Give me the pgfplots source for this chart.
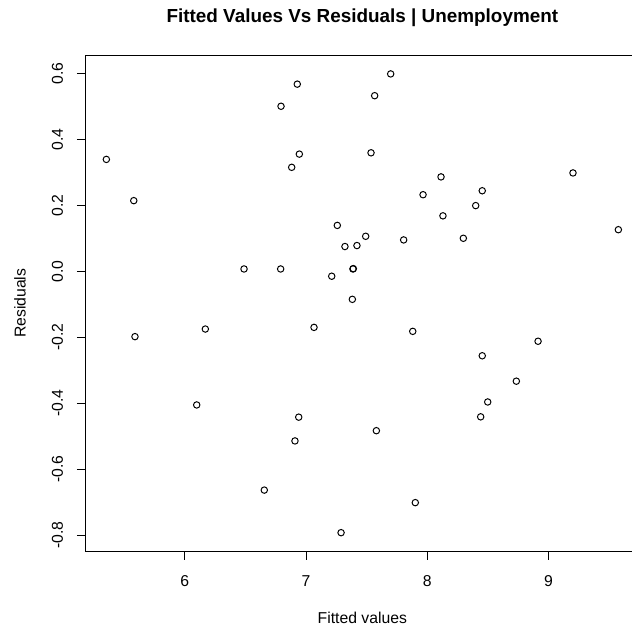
\documentclass[border=0pt]{standalone}
\usepackage{pgfplots}
\pgfplotsset{compat=1.18}
\usepackage{fontspec}
\setmainfont{Liberation Sans}
\begin{document}
\begin{tikzpicture}
\begin{axis}[
  at={(65.2bp,61.5bp)}, anchor=south west,
  scale only axis, width=420bp, height=376.3bp,
  xmin=5.185, xmax=9.744, ymin=-0.8476, ymax=0.6536,
  axis line style={line width=0.75bp, black},
  xtick={6,7,8,9}, xticklabels={6,7,8,9},
  ytick={-0.8,-0.6,-0.4,-0.2,0,0.2,0.4,0.6},
  yticklabels={-0.8,-0.6,-0.4,-0.2,0.0,0.2,0.4,0.6},
  xtick pos=bottom, ytick pos=left,
  tick align=outside, major tick length=6.8bp,
  tick style={line width=0.75bp, black},
  ticklabel style={font=\fontsize{12}{14}\selectfont},
  xticklabel style={anchor=center, yshift=-16bp},
  yticklabel style={xshift=-14.8bp, rotate=90, anchor=center},
  xlabel={Fitted values},
  ylabel={Residuals},
  label style={font=\fontsize{12}{14}\selectfont},
  xlabel style={at={([yshift=-51bp]axis description cs:0.5,0)}, anchor=center},
  ylabel style={at={([xshift=-50bp]axis description cs:0,0.5)}, anchor=center},
  title={Fitted Values Vs Residuals | Unemployment},
  title style={at={([yshift=22.4bp]axis description cs:0.5,1)}, anchor=center, font=\fontsize{14.4}{16}\selectfont\bfseries},
]
\addplot[only marks, mark=o, mark size=2.45bp, mark options={line width=0.75bp, black}] coordinates {
(5.354,0.339) (5.580,0.214) (6.794,0.500) (6.928,0.567) (6.882,0.315)
(6.945,0.355) (6.489,0.007) (6.791,0.007) (7.698,0.598) (7.566,0.532)
(7.536,0.359) (8.113,0.286) (9.201,0.298) (7.965,0.232) (8.453,0.244)
(8.399,0.199) (8.129,0.168) (9.575,0.126) (7.258,0.139) (7.321,0.075)
(7.420,0.078) (7.492,0.106) (7.805,0.095) (8.297,0.100) (7.387,0.007)
(7.390,0.008) (7.212,-0.015) (7.382,-0.085) (5.590,-0.198) (6.170,-0.175)
(7.066,-0.170) (6.099,-0.405) (6.940,-0.442) (6.909,-0.514) (6.656,-0.663)
(7.880,-0.182) (8.913,-0.212) (8.453,-0.256) (8.734,-0.333) (8.498,-0.396)
(8.440,-0.441) (7.580,-0.483) (7.901,-0.701) (7.289,-0.792)
};
\end{axis}
\pgfresetboundingbox
\path[use as bounding box] (0,0) rectangle (480bp,480bp);
\end{tikzpicture}
\end{document}
